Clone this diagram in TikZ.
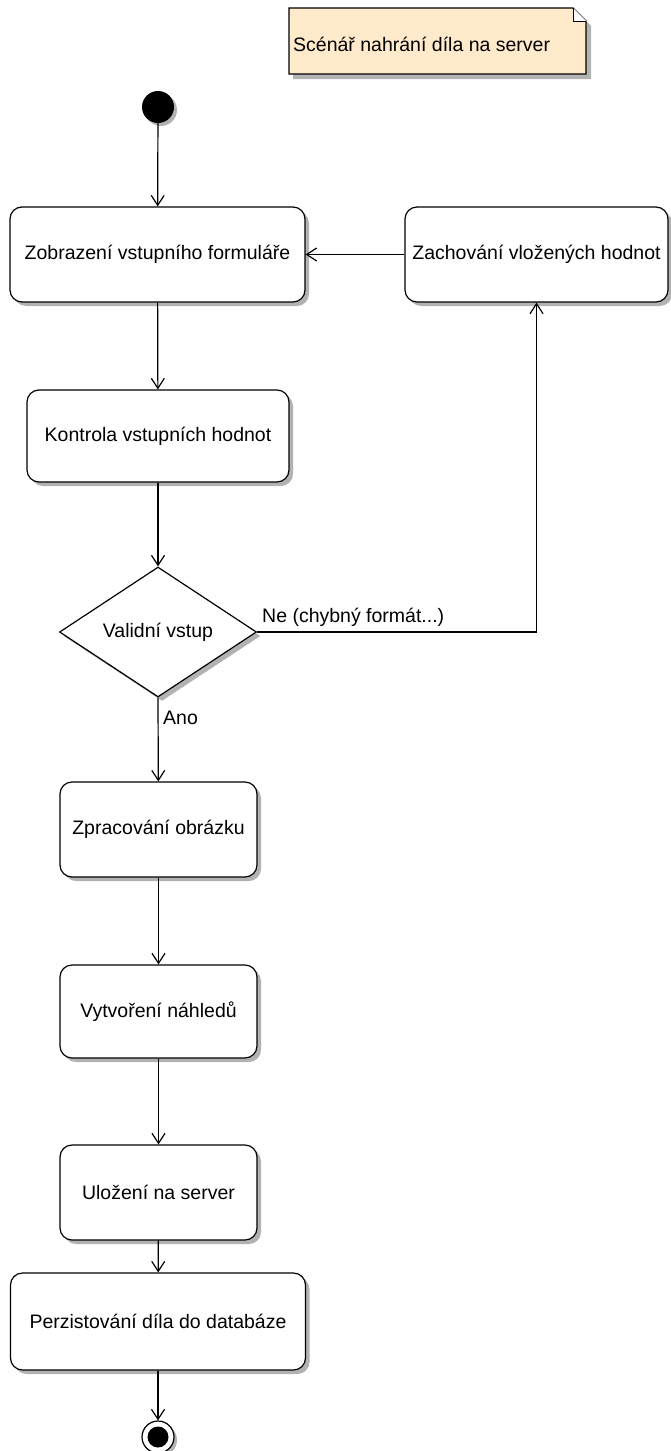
\documentclass[tikz,border=0pt]{standalone}
\usepackage{fontspec}
\setmainfont{Liberation Sans}
\usetikzlibrary{arrows.meta,shapes.geometric,shadows}
\definecolor{notefill}{RGB}{255,234,204}
\begin{document}
\begin{tikzpicture}[x=1pt,y=-1pt,
  font=\fontsize{19.5}{23}\selectfont,
  shad/.style={drop shadow={shadow xshift=4pt,shadow yshift=-4pt,fill=black!30,opacity=1}},
  actbox/.style={draw,line width=1.2pt,rounded corners=12pt,fill=white,inner sep=0pt,shad},
  decision/.style={diamond,draw,line width=1.2pt,fill=white,inner sep=0pt,aspect=1.52,shad},
  arr/.style={line width=1.2pt,-{Straight Barb[length=10pt,width=13pt]}},
  lbl/.style={inner sep=0pt}
]
\useasboundingbox (0,0) rectangle (670,1451);
% note
\fill[black!30] (293,13) -- (578,13) -- (591,26) -- (591,79) -- (293,79) -- cycle;
\draw[line width=1.2pt,fill=notefill] (289,8) -- (573,8) -- (586,21) -- (586,74) -- (289,74) -- cycle;
\draw[line width=1pt,fill=white] (573,8) -- (573,21) -- (586,21);
\node[lbl,anchor=base west] (note) at (293,51) {Scénář nahrání díla na server};
% start
\fill[black!30] (161,110) circle (16);
\node[circle,fill=black,minimum size=32pt,inner sep=0pt] (start) at (158,107) {};
% boxes
\node[actbox,minimum width=295pt,minimum height=95pt] (b1) at (157.5,254.5) {Zobrazení vstupního formuláře};
\node[actbox,minimum width=263pt,minimum height=95pt] (z) at (536.5,254.5) {Zachování vložených hodnot};
\node[actbox,minimum width=262pt,minimum height=92pt] (b2) at (158,436) {Kontrola vstupních hodnot};
\node[decision,minimum width=197pt,minimum height=130pt] (d) at (158,632) {Validní vstup};
\node[actbox,minimum width=197pt,minimum height=95pt] (b3) at (158.5,829.5) {Zpracování obrázku};
\node[actbox,minimum width=197pt,minimum height=93pt] (b4) at (158.5,1011.5) {Vytvoření náhledů};
\node[actbox,minimum width=197pt,minimum height=95pt] (b5) at (158.5,1192.5) {Uložení na server};
\node[actbox,minimum width=295pt,minimum height=97pt] (b6) at (158,1321.5) {Perzistování díla do databáze};
% end
\fill[black!30] (161,1440) circle (16);
\node[circle,draw,line width=1.2pt,fill=white,minimum size=32pt,inner sep=0pt] (end) at (158,1437) {};
\fill[black] (end.center) circle (10.5);
% connectors
\draw[arr] (start) -- (b1);
\draw[arr] (z.west) -- (b1.east);
\draw[arr] (b1) -- (b2);
\draw[arr] (b2) -- (d.north);
\draw[arr] (d.east) -| (z.south);
\draw[arr] (d.south) -- (b3);
\draw[arr] (b3) -- (b4);
\draw[arr] (b4) -- (b5);
\draw[arr] (b5) -- (b6);
\draw[arr] (b6) -- (end);
\node[lbl,anchor=base west] (ne) at (262,622) {Ne (chybný formát...)};
\node[lbl,anchor=base west] (ano) at (163,724) {Ano};
\end{tikzpicture}
\end{document}
